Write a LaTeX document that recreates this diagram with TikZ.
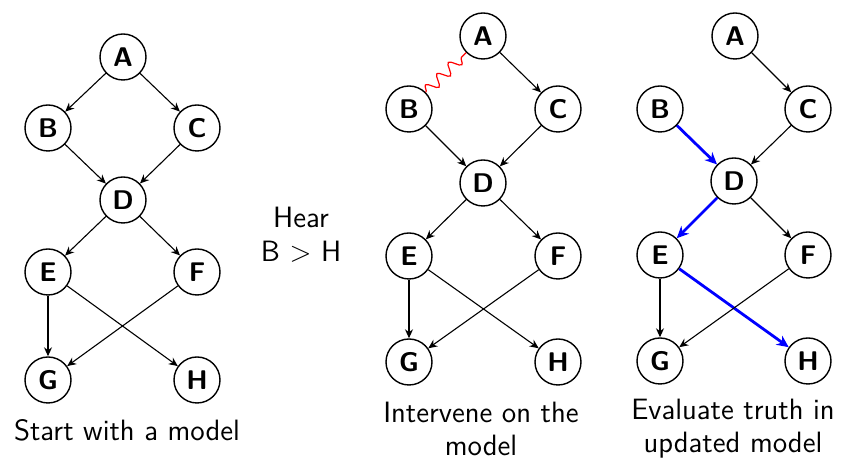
\documentclass[tikz,border=0pt]{standalone}
\usetikzlibrary{arrows.meta,decorations.pathmorphing}
\begin{document}
\begin{tikzpicture}[x=0.5pt,y=-0.5pt,
  vnode/.style={circle,draw,line width=0.7pt,minimum size=23pt,inner sep=0pt,
    font=\fontsize{13.5}{16}\selectfont\sffamily\bfseries},
  edge/.style={-{Stealth[length=4.5pt,width=4pt]},line width=0.55pt},
  hedge/.style={-{Stealth[length=6pt,width=5.5pt]},line width=1.4pt,blue},
  lbl/.style={font=\fontsize{14.7}{16.5}\selectfont\sffamily,align=center,inner sep=0pt}]
\useasboundingbox (0,0) rectangle (843,459);
% left panel
\node[vnode] (lA) at (123,57) {A};
\node[vnode] (lB) at (48,128) {B};
\node[vnode] (lC) at (197,128) {C};
\node[vnode] (lD) at (123,200) {D};
\node[vnode] (lE) at (48,272) {E};
\node[vnode] (lF) at (197,272) {F};
\node[vnode] (lG) at (48,380) {G};
\node[vnode] (lH) at (197,380) {H};
\draw[edge] (lA) -- (lB);
\draw[edge] (lA) -- (lC);
\draw[edge] (lB) -- (lD);
\draw[edge] (lC) -- (lD);
\draw[edge] (lD) -- (lE);
\draw[edge] (lD) -- (lF);
\draw[edge] (lE) -- (lG);
\draw[edge] (lE) -- (lH);
\draw[edge] (lF) -- (lG);
\node[lbl] (lcap) at (127,430) {Start with a model};
% middle text
\node[lbl] (hear) at (301,217) {Hear};
\node[lbl] (bh) at (301,252) {B $>$ H};
% middle panel
\node[vnode] (mA) at (483,36) {A};
\node[vnode] (mB) at (409,109) {B};
\node[vnode] (mC) at (558,109) {C};
\node[vnode] (mD) at (483,183) {D};
\node[vnode] (mE) at (409,256) {E};
\node[vnode] (mF) at (558,256) {F};
\node[vnode] (mG) at (409,362) {G};
\node[vnode] (mH) at (558,362) {H};
\draw[red,line width=0.6pt,decorate,decoration={snake,amplitude=2.8pt,segment length=8pt}] (mB) -- (mA);
\draw[edge] (mA) -- (mC);
\draw[edge] (mB) -- (mD);
\draw[edge] (mC) -- (mD);
\draw[edge] (mD) -- (mE);
\draw[edge] (mD) -- (mF);
\draw[edge] (mE) -- (mG);
\draw[edge] (mE) -- (mH);
\draw[edge] (mF) -- (mG);
\node[lbl] (mcap) at (481,429) {Intervene on the\\model};
% right panel
\node[vnode] (rA) at (735,36) {A};
\node[vnode] (rB) at (660,109) {B};
\node[vnode] (rC) at (808,109) {C};
\node[vnode] (rD) at (734,181) {D};
\node[vnode] (rE) at (660,255) {E};
\node[vnode] (rF) at (808,255) {F};
\node[vnode] (rG) at (660,361) {G};
\node[vnode] (rH) at (808,361) {H};
\draw[edge] (rA) -- (rC);
\draw[hedge] (rB) -- (rD);
\draw[edge] (rC) -- (rD);
\draw[hedge] (rD) -- (rE);
\draw[edge] (rD) -- (rF);
\draw[edge] (rE) -- (rG);
\draw[hedge] (rE) -- (rH);
\draw[edge] (rF) -- (rG);
\node[lbl] (rcap) at (733,429) {Evaluate truth in\\updated model};
\end{tikzpicture}
\end{document}
